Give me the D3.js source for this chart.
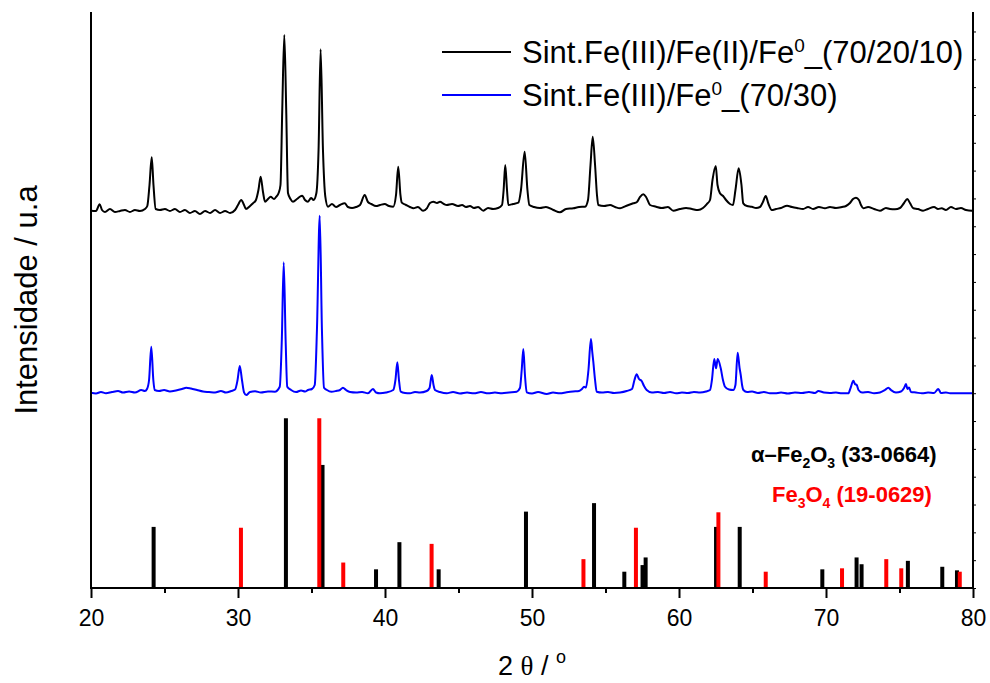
<!DOCTYPE html>
<html>
<head>
<meta charset="utf-8">
<script src="https://cdn.jsdelivr.net/npm/d3@7"></script>
<style>
  body { margin: 0; background: #fff; }
  text { font-family: "Liberation Sans", Arial, sans-serif; }
</style>
</head>
<body>
<svg id="chart" width="990" height="683"></svg>
<script>
// XRD patterns: [2θ (°), counts above the pattern's own background]
const sintFe3Fe2Fe0 = [
  [20.00,59],[20.34,49],[20.59,289],[20.75,84],[20.95,13],[21.29,120],[21.63,13],[21.97,49],[22.31,84],[22.65,13],
  [22.99,84],[23.33,49],[23.67,120],[23.83,228],[23.98,983],[24.13,1978],[24.25,983],[24.40,120],[24.69,84],[25.03,120],
  [25.37,49],[25.71,120],[26.05,13],[26.39,84],[26.73,-23],[27.07,49],[27.41,-59],[27.76,49],[28.10,-23],[28.44,84],
  [28.78,-23],[29.12,49],[29.46,-23],[29.80,84],[30.00,264],[30.22,444],[30.41,264],[30.54,120],[30.82,228],[31.02,325],
  [31.22,444],[31.39,803],[31.54,1281],[31.70,731],[31.84,383],[32.04,480],[32.22,562],[32.45,480],[32.59,552],[32.77,706],
  [32.89,983],[33.01,3678],[33.15,6374],[33.28,3678],[33.40,695],[33.57,480],[33.74,383],[34.01,480],[34.18,552],[34.37,598],
  [34.56,444],[34.76,383],[34.97,516],[35.14,444],[35.33,685],[35.48,2241],[35.62,5860],[35.78,2241],[35.94,562],[36.12,203],
  [36.39,300],[36.67,192],[36.94,264],[37.26,325],[37.48,192],[37.76,156],[38.03,192],[38.30,264],[38.62,624],[38.84,372],
  [39.07,300],[39.39,228],[39.66,264],[39.98,300],[40.27,228],[40.56,203],[40.75,624],[40.90,1641],[41.05,624],[41.14,347],
  [41.43,264],[41.70,192],[41.93,146],[42.24,192],[42.59,59],[42.86,156],[43.06,336],[43.29,383],[43.54,336],[43.74,383],
  [44.01,300],[44.20,264],[44.56,300],[44.97,228],[45.24,264],[45.51,192],[45.78,228],[46.05,156],[46.33,192],[46.69,59],
  [47.01,156],[47.35,120],[47.69,156],[47.96,264],[48.07,803],[48.18,1701],[48.30,803],[48.39,264],[48.71,300],[49.07,347],
  [49.25,803],[49.50,2180],[49.69,803],[49.82,264],[50.14,192],[50.54,156],[50.95,192],[51.45,84],[51.90,2],[52.31,120],
  [52.81,146],[53.20,192],[53.61,203],[53.81,444],[53.98,1701],[54.13,2719],[54.29,1701],[54.42,624],[54.51,264],[54.90,228],
  [55.31,264],[55.65,192],[55.99,146],[56.39,228],[56.89,325],[57.14,372],[57.35,552],[57.57,649],[57.76,552],[58.03,264],
  [58.44,203],[58.84,156],[59.25,192],[59.61,59],[60.07,120],[60.48,156],[60.88,120],[61.29,84],[61.63,156],[61.88,289],
  [62.11,444],[62.28,1163],[62.50,1666],[62.62,983],[62.79,685],[63.00,588],[63.20,444],[63.47,300],[63.67,264],[63.84,803],
  [64.06,1583],[64.25,983],[64.37,325],[64.63,228],[64.95,203],[65.24,156],[65.51,192],[65.71,372],[65.90,588],[66.09,300],
  [66.31,84],[66.60,120],[66.94,156],[67.35,239],[67.69,192],[68.03,156],[68.44,120],[68.78,192],[69.12,120],[69.52,192],
  [69.93,146],[70.27,192],[70.68,156],[71.09,192],[71.36,228],[71.63,336],[71.84,480],[72.04,527],[72.24,444],[72.38,264],
  [72.54,146],[72.86,192],[73.27,120],[73.67,59],[74.08,156],[74.35,120],[74.69,110],[75.03,156],[75.31,336],[75.53,480],
  [75.71,336],[75.94,146],[76.26,120],[76.60,59],[76.94,120],[77.35,192],[77.62,120],[77.87,146],[78.16,84],[78.50,192],
  [78.84,120],[79.18,156],[79.52,84],[79.91,59],[80.00,84]
];

const sintFe3Fe0 = [
  [20.00,68],[20.34,40],[20.68,93],[21.02,47],[21.43,93],[21.84,129],[22.18,75],[22.59,111],[22.99,75],[23.42,165],
  [23.67,129],[23.81,201],[23.95,525],[24.10,1722],[24.24,525],[24.33,165],[24.63,129],[24.97,165],[25.37,111],[25.78,147],
  [26.19,201],[26.48,248],[26.80,219],[27.21,165],[27.62,111],[28.03,93],[28.44,75],[28.84,129],[29.18,75],[29.54,129],
  [29.80,183],[29.97,525],[30.12,1028],[30.27,525],[30.41,83],[30.56,-14],[30.82,93],[31.16,119],[31.56,75],[32.04,111],
  [32.50,104],[32.84,284],[32.98,1962],[33.11,4755],[33.24,1962],[33.35,284],[33.61,165],[33.95,93],[34.29,147],[34.56,111],
  [34.76,165],[35.03,201],[35.22,345],[35.37,2322],[35.56,6430],[35.71,2322],[35.85,248],[36.05,165],[36.35,104],[36.67,129],
  [36.94,165],[37.14,248],[37.35,165],[37.62,93],[38.03,75],[38.44,93],[38.84,47],[39.18,201],[39.39,75],[39.66,47],
  [40.07,75],[40.56,165],[40.71,525],[40.84,1161],[40.95,525],[41.07,104],[41.36,58],[41.70,47],[42.04,93],[42.38,75],
  [42.84,129],[43.03,237],[43.18,704],[43.30,345],[43.40,165],[43.74,93],[44.20,47],[44.63,93],[45.10,40],[45.58,75],
  [46.05,47],[46.53,93],[47.01,47],[47.48,75],[47.96,47],[48.44,75],[48.96,104],[49.18,237],[49.30,884],[49.41,1639],
  [49.52,704],[49.64,83],[50.00,40],[50.41,93],[51.00,22],[51.43,75],[51.90,47],[52.36,83],[52.79,111],[53.20,129],
  [53.40,201],[53.54,284],[53.67,255],[53.84,884],[54.01,1998],[54.10,1531],[54.17,1182],[54.29,525],[54.40,104],[54.76,75],
  [55.17,93],[55.58,58],[55.99,75],[56.44,129],[56.80,201],[56.97,525],[57.12,730],[57.28,561],[57.46,489],[57.62,309],
  [57.80,165],[58.16,75],[58.57,93],[58.98,58],[59.39,93],[59.80,47],[60.20,75],[60.61,58],[61.02,93],[61.43,75],
  [61.84,111],[62.11,165],[62.24,525],[62.40,1279],[62.52,945],[62.63,1279],[62.84,945],[62.99,525],[63.13,284],[63.40,183],
  [63.69,165],[63.84,345],[63.99,1506],[64.12,956],[64.20,704],[64.29,345],[64.38,165],[64.63,93],[64.97,111],[65.37,58],
  [65.78,93],[66.19,47],[66.53,47],[66.94,75],[67.41,40],[67.89,75],[68.37,58],[68.84,93],[69.25,58],[69.48,129],
  [69.86,75],[70.27,58],[70.68,75],[71.09,47],[71.52,47],[71.67,237],[71.86,500],[71.97,381],[72.09,345],[72.21,165],
  [72.45,75],[72.86,93],[73.27,47],[73.67,75],[74.01,165],[74.24,248],[74.42,165],[74.76,75],[75.10,111],[75.31,237],
  [75.44,381],[75.54,201],[75.65,255],[75.78,93],[76.12,75],[76.53,47],[76.94,75],[77.35,58],[77.64,201],[77.82,58],
  [78.16,75],[78.44,47],[80.00,47]
];

// Vertical stacking of the two measured patterns (counts)
const offsetFe3Fe2Fe0 = 13500;
const offsetFe3Fe0 = 6950;

// Reference cards: 2θ (°) and relative intensity (%)
const hematiteTheta     = [24.26, 33.26, 35.75, 39.39, 40.98, 43.65, 49.59, 54.22, 56.28, 57.52, 57.73, 62.52, 64.13, 69.75, 72.08, 72.42, 75.57, 77.91, 78.91];
const hematiteIntensity = [36, 100, 72.5, 11, 27, 11, 45, 50, 9.6, 13.5, 18, 36, 36, 11, 18, 14, 16, 12.5, 10.4];
const magnetiteTheta     = [30.20, 35.53, 37.16, 43.17, 53.50, 57.07, 62.68, 65.90, 71.09, 74.10, 75.12, 79.10];
const magnetiteIntensity = [35.5, 100, 15, 26, 17, 35.5, 44.6, 9.6, 11.6, 17, 11.6, 9.6];

const xMajorTicks = [20, 30, 40, 50, 60, 70, 80];
const xMinorTicks = [25, 35, 45, 55, 65, 75];

const seriesNames = ["Sint.Fe(III)/Fe(II)/Fe", "Sint.Fe(III)/Fe"];
const seriesSuffix = ["_(70/20/10)", "_(70/30)"];

// ---------------------------------------------------------------
const W = 990, H = 683;
const m = { left: 91, right: 17, top: 12, bottom: 95 };
const svg = d3.select("#chart");

const x = d3.scaleLinear().domain([20, 80]).range([m.left, W - m.right]);
const y = d3.scaleLinear().domain([0, 20700]).range([H - m.bottom, m.top]);
const yRef = d3.scaleLinear().domain([0, 100]).range([y(0), y(6100)]);

// reference sticks
const sticks = svg.append("g");
function drawSticks(thetas, ints, color) {
  sticks.selectAll(null)
    .data(d3.zip(thetas, ints))
    .join("rect")
    .attr("x", d => x(d[0]) - 2)
    .attr("width", 4)
    .attr("y", d => yRef(d[1]))
    .attr("height", d => yRef(0) - yRef(d[1]))
    .attr("fill", color);
}
drawSticks(hematiteTheta, hematiteIntensity, "#000000");
drawSticks(magnetiteTheta, magnetiteIntensity, "#ff0000");

// measured patterns
function pattern(offset) {
  return d3.line().curve(d3.curveMonotoneX).x(d => x(d[0])).y(d => y(d[1] + offset));
}
svg.append("path").datum(sintFe3Fe0)
  .attr("d", pattern(offsetFe3Fe0))
  .attr("fill", "none").attr("stroke", "#0000ff").attr("stroke-width", 2)
  .attr("stroke-linejoin", "round");
svg.append("path").datum(sintFe3Fe2Fe0)
  .attr("d", pattern(offsetFe3Fe2Fe0))
  .attr("fill", "none").attr("stroke", "#000000").attr("stroke-width", 2)
  .attr("stroke-linejoin", "round");

// axes
const xAxis = svg.append("g").attr("transform", `translate(0,${y(0)})`)
  .call(d3.axisBottom(x).tickValues(xMajorTicks).tickSize(10).tickPadding(12).tickFormat(d3.format("d")));
xAxis.select(".domain").remove();
xAxis.selectAll(".tick line").attr("stroke", "#000").attr("stroke-width", 2);
xAxis.selectAll(".tick text").attr("font-size", 23).attr("fill", "#000")
  .attr("font-family", "'Liberation Sans', Arial, sans-serif");

const xMinor = svg.append("g").attr("transform", `translate(0,${y(0)})`)
  .call(d3.axisBottom(x).tickValues(xMinorTicks).tickSize(5).tickFormat(""));
xMinor.select(".domain").remove();
xMinor.selectAll(".tick line").attr("stroke", "#000").attr("stroke-width", 2);

const rAxis = svg.append("g").attr("transform", `translate(${x(80)},0)`)
  .call(d3.axisRight(y).tickValues(d3.range(0, 20701, 1000)).tickSize(3).tickFormat(""));
rAxis.select(".domain").remove();
rAxis.selectAll(".tick line").attr("stroke", "#000").attr("stroke-width", 1);

const frame = svg.append("g").attr("stroke", "#000").attr("stroke-width", 2);
frame.append("line").attr("x1", x(20)).attr("x2", x(20)).attr("y1", y(20700)).attr("y2", y(0) + 1);
frame.append("line").attr("x1", x(80)).attr("x2", x(80)).attr("y1", y(20700)).attr("y2", y(0) + 1);
frame.append("line").attr("x1", x(20) - 1).attr("x2", x(80) + 1).attr("y1", y(0)).attr("y2", y(0));

// axis titles
const xt = svg.append("text").attr("x", (x(20) + x(80)) / 2).attr("y", 675)
  .attr("text-anchor", "middle").attr("font-size", 27).attr("fill", "#000");
xt.append("tspan").text("2 ");
xt.append("tspan").attr("font-family", "'Liberation Serif', 'Times New Roman', serif").text("θ");
xt.append("tspan").text(" / ");
xt.append("tspan").attr("font-size", 18).attr("dy", -12).text("o");

svg.append("text")
  .attr("transform", `translate(37,${(y(0) + y(20700)) / 2}) rotate(-90)`)
  .attr("text-anchor", "middle").attr("font-size", 31).attr("fill", "#000")
  .text("Intensidade / u.a");

// legend
const legendColors = ["#000000", "#0000ff"];
const legendY = [52, 95];
seriesNames.forEach((name, i) => {
  svg.append("line").attr("x1", 442).attr("x2", 511)
    .attr("y1", legendY[i]).attr("y2", legendY[i])
    .attr("stroke", legendColors[i]).attr("stroke-width", 2);
  const t = svg.append("text").attr("x", 522).attr("y", legendY[i] + 11)
    .attr("font-size", 31).attr("fill", "#000");
  t.append("tspan").text(name);
  t.append("tspan").attr("font-size", 19).attr("dy", -11).text("0");
  t.append("tspan").attr("dy", 11).text(seriesSuffix[i]);
});

// phase labels
const hem = svg.append("text").attr("x", 751).attr("y", 462)
  .attr("font-size", 22).attr("font-weight", "bold").attr("fill", "#000");
hem.append("tspan").text("α–Fe");
hem.append("tspan").attr("font-size", 14).attr("dy", 6).text("2");
hem.append("tspan").attr("dy", -6).text("O");
hem.append("tspan").attr("font-size", 14).attr("dy", 6).text("3");
hem.append("tspan").attr("dy", -6).text(" (33-0664)");

const mag = svg.append("text").attr("x", 772).attr("y", 502)
  .attr("font-size", 22).attr("font-weight", "bold").attr("fill", "#ff0000");
mag.append("tspan").text("Fe");
mag.append("tspan").attr("font-size", 14).attr("dy", 6).text("3");
mag.append("tspan").attr("dy", -6).text("O");
mag.append("tspan").attr("font-size", 14).attr("dy", 6).text("4");
mag.append("tspan").attr("dy", -6).text(" (19-0629)");
</script>
</body>
</html>
